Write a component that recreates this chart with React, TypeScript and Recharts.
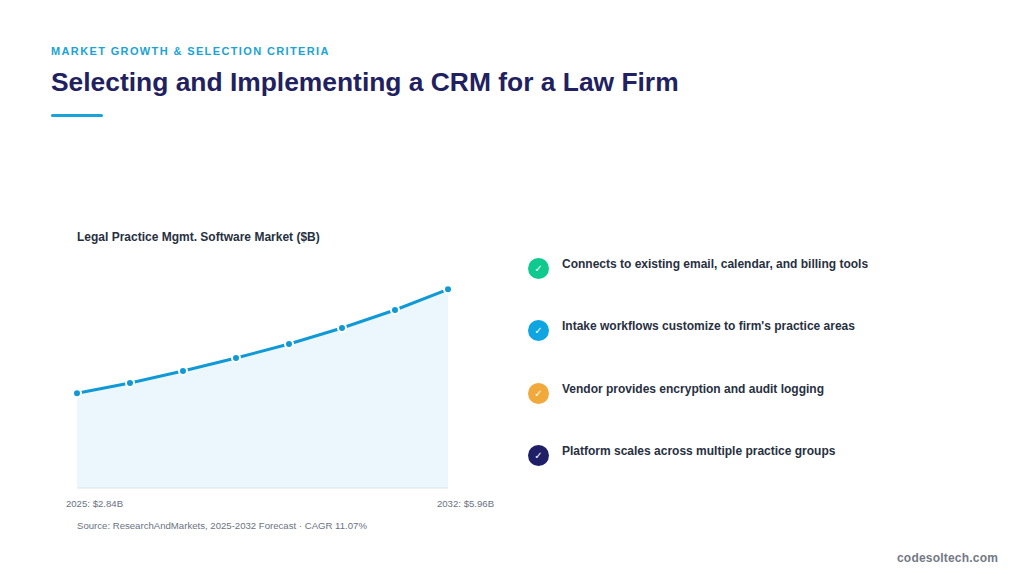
import { Area, AreaChart, XAxis, YAxis } from 'recharts';

const years = [2025, 2026, 2027, 2028, 2029, 2030, 2031, 2032];
const marketSize = [2.84, 3.15, 3.51, 3.9, 4.32, 4.8, 5.34, 5.96];
const endTicks = [2025, 2032];
const criteria = [
  'Connects to existing email, calendar, and billing tools',
  "Intake workflows customize to firm's practice areas",
  'Vendor provides encryption and audit logging',
  'Platform scales across multiple practice groups',
];
const criteriaColors = ['#10c98f', '#0ea5e0', '#f0a93a', '#1e1f66'];

const chartData = years.map((year, i) => ({ year, value: marketSize[i] }));
const FONT = '"Liberation Sans", Arial, sans-serif';

const labelFor = (year: number) => `${year}: $${marketSize[years.indexOf(year)].toFixed(2)}B`;

export default function App() {
  return (
    <div
      style={{
        position: 'absolute',
        left: 0,
        top: 0,
        width: 1024,
        height: 584,
        overflow: 'hidden',
        background: '#fff',
        fontFamily: FONT,
      }}
    >
      <div style={{ position: 'absolute', left: 51, top: 44, fontSize: 11, lineHeight: '14px', fontWeight: 700, letterSpacing: 1.37, color: '#1aa3d4', whiteSpace: 'nowrap' }}>
        MARKET GROWTH &amp; SELECTION CRITERIA
      </div>
      <div style={{ position: 'absolute', left: 51, top: 65, fontSize: 26.4, lineHeight: '34px', fontWeight: 700, color: '#1f2160', whiteSpace: 'nowrap' }}>
        Selecting and Implementing a CRM for a Law Firm
      </div>
      <div style={{ position: 'absolute', left: 51, top: 114, width: 52, height: 3, borderRadius: 2, background: '#1aa3d9' }} />

      <div style={{ position: 'absolute', left: 77, top: 229, fontSize: 12, lineHeight: '16px', fontWeight: 700, color: '#28303f', whiteSpace: 'nowrap' }}>
        Legal Practice Mgmt. Software Market ($B)
      </div>

      <div style={{ position: 'absolute', left: 0, top: 0 }}>
        <AreaChart
          width={1024}
          height={584}
          data={chartData}
          margin={{ top: 288, right: 576, bottom: 0, left: 77 }}
        >
          <XAxis
            dataKey="year"
            type="category"
            ticks={endTicks}
            interval={0}
            height={96}
            padding={{ left: 0, right: 0 }}
            tickLine={false}
            axisLine={{ stroke: '#dde3ea', strokeWidth: 1 }}
            tick={{ fill: '#6b7280', fontSize: 9.6, fontFamily: FONT, dx: 17.5, dy: 1 }}
            tickMargin={5}
            tickFormatter={labelFor}
          />
          <YAxis hide domain={[0, 6]} width={0} />
          <Area
            type="linear"
            dataKey="value"
            stroke="#1199d6"
            strokeWidth={3}
            fill="#ebf7fd"
            fillOpacity={1}
            dot={{ r: 4, fill: '#1199d6', stroke: '#fff', strokeWidth: 2, fillOpacity: 1 }}
            activeDot={false}
            isAnimationActive={false}
          />
        </AreaChart>
      </div>

      <div style={{ position: 'absolute', left: 77, top: 519, fontSize: 9.6, lineHeight: '13px', color: '#6b7280', whiteSpace: 'nowrap' }}>
        Source: ResearchAndMarkets, 2025-2032 Forecast · CAGR 11.07%
      </div>

      {criteria.map((text, i) => (
        <div key={text}>
          <div
            style={{
              position: 'absolute',
              left: 528,
              top: 258 + i * 62.4,
              width: 21,
              height: 21,
              borderRadius: '50%',
              background: criteriaColors[i],
              color: '#fff',
              fontSize: 10,
              lineHeight: '21px',
              textAlign: 'center',
              fontFamily: '"DejaVu Sans", sans-serif',
            }}
          >
            ✓
          </div>
          <div style={{ position: 'absolute', left: 562, top: 256 + i * 62.4, fontSize: 12, lineHeight: '16px', fontWeight: 700, color: '#28303f', whiteSpace: 'nowrap' }}>
            {text}
          </div>
        </div>
      ))}

      <div style={{ position: 'absolute', left: 897, top: 550, fontSize: 12, lineHeight: '16px', fontWeight: 700, letterSpacing: 0.2, color: '#737985', whiteSpace: 'nowrap' }}>
        codesoltech.com
      </div>
    </div>
  );
}
